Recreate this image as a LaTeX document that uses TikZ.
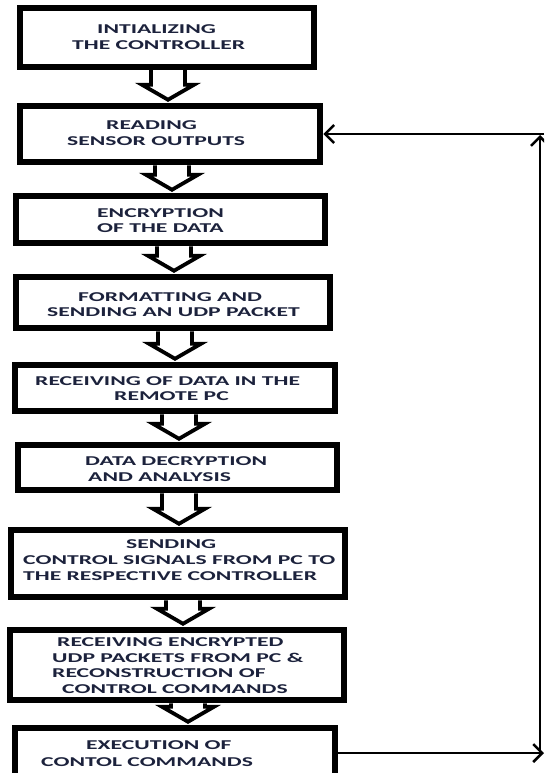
\documentclass[tikz,border=0pt]{standalone}
\usepackage{fontspec}
\setmainfont{Carlito}
\usepackage{graphicx}
\usetikzlibrary{arrows.meta,calc}
\definecolor{txtc}{RGB}{28,34,60}
\newcommand\wl[1]{\scalebox{1.75}[1]{#1}}
\newcommand\mkbox[5]{\node[box, minimum width={(#3-#2-6)*1pt}, minimum height={(#5-#4-6)*1pt}] (#1) at ({(#2+#3)/2},{(#4+#5)/2}) {};}
\newcommand\harr[3]{\draw[harrow] let \p1=(#1.south), \p2=(#2.north) in
  (#3pt-17pt,\y1) -- (#3pt-17pt,\y2+18pt) -- (#3pt-26pt,\y2+18pt) -- (#3pt,\y2+3pt) -- (#3pt+26pt,\y2+18pt) -- (#3pt+17pt,\y2+18pt) -- (#3pt+17pt,\y1);}
\newcommand\tline[4]{\node[tl] (#1) at (#2,{#3+4.5}) {\wl{#4}};}
\tikzset{
  box/.style={draw=black, line width=6.5pt, inner sep=0pt, rectangle},
  tl/.style={anchor=base west, inner sep=0pt, text=txtc, font=\fontsize{13.5}{15}\selectfont\bfseries},
  harrow/.style={draw=black, line width=3.8pt, line join=miter},
  fb/.style={draw=black, line width=2.5pt, -{Straight Barb[length=9pt,width=18pt]}}
}
\begin{document}
\begin{tikzpicture}[x=1pt,y=-1pt]
\clip (0,0) rectangle (544,773);
\fill[white] (0,0) rectangle (544,773);
% boxes
\mkbox{b1}{17}{317}{5}{70}
\mkbox{b2}{17}{323}{103}{165}
\mkbox{b3}{13}{328}{193}{246}
\mkbox{b4}{13}{333}{274}{331}
\mkbox{b5}{12}{338}{362}{414}
\mkbox{b6}{15}{340}{442}{493}
\mkbox{b7}{8}{348}{527}{600}
\mkbox{b8}{7}{347}{627}{703}
\mkbox{b9}{12}{338}{725}{781}
% texts
\tline{t1a}{97}{29}{INTIALIZING}
\tline{t1b}{72}{45}{THE CONTROLLER}
\tline{t2a}{106}{125}{READING}
\tline{t2b}{67}{141}{SENSOR OUTPUTS}
\tline{t3a}{97}{213}{ENCRYPTION}
\tline{t3b}{97}{228}{OF THE DATA}
\tline{t4a}{78}{297}{FORMATTING AND}
\tline{t4b}{47}{312}{SENDING AN UDP PACKET}
\tline{t5a}{35}{381}{RECEIVING OF DATA IN THE}
\tline{t5b}{114}{396}{REMOTE PC}
\tline{t6a}{85}{461}{DATA DECRYPTION}
\tline{t6b}{88}{477}{AND ANALYSIS}
\tline{t7a}{126}{544}{SENDING}
\tline{t7b}{23}{560}{CONTROL SIGNALS FROM PC TO}
\tline{t7c}{23}{576}{THE RESPECTIVE CONTROLLER}
\tline{t8a}{57}{642}{RECEIVING ENCRYPTED}
\tline{t8b}{52}{658}{UDP PACKETS FROM PC \&}
\tline{t8c}{52}{673}{RECONSTRUCTION OF}
\tline{t8d}{62}{689}{CONTROL COMMANDS}
\tline{t9a}{86}{745}{EXECUTION OF}
\tline{t9b}{41}{762}{CONTOL COMMANDS}
% hollow arrows
\harr{b1}{b2}{168}
\harr{b2}{b3}{172}
\harr{b3}{b4}{174}
\harr{b4}{b5}{175}
\harr{b5}{b6}{179}
\harr{b6}{b7}{179}
\harr{b7}{b8}{183}
\harr{b8}{b9}{188}
% feedback loop
\coordinate (fbR) at (544,753);
\coordinate (fbB) at (540,753);
\coordinate (fbT) at (540,135);
\coordinate (fbTR) at (544,134);
\draw[fb] (b9.east) -- (fbR);
\draw[fb] (fbB) -- (fbT);
\draw[fb] (fbTR) -- (b2.east);
\end{tikzpicture}
\end{document}
